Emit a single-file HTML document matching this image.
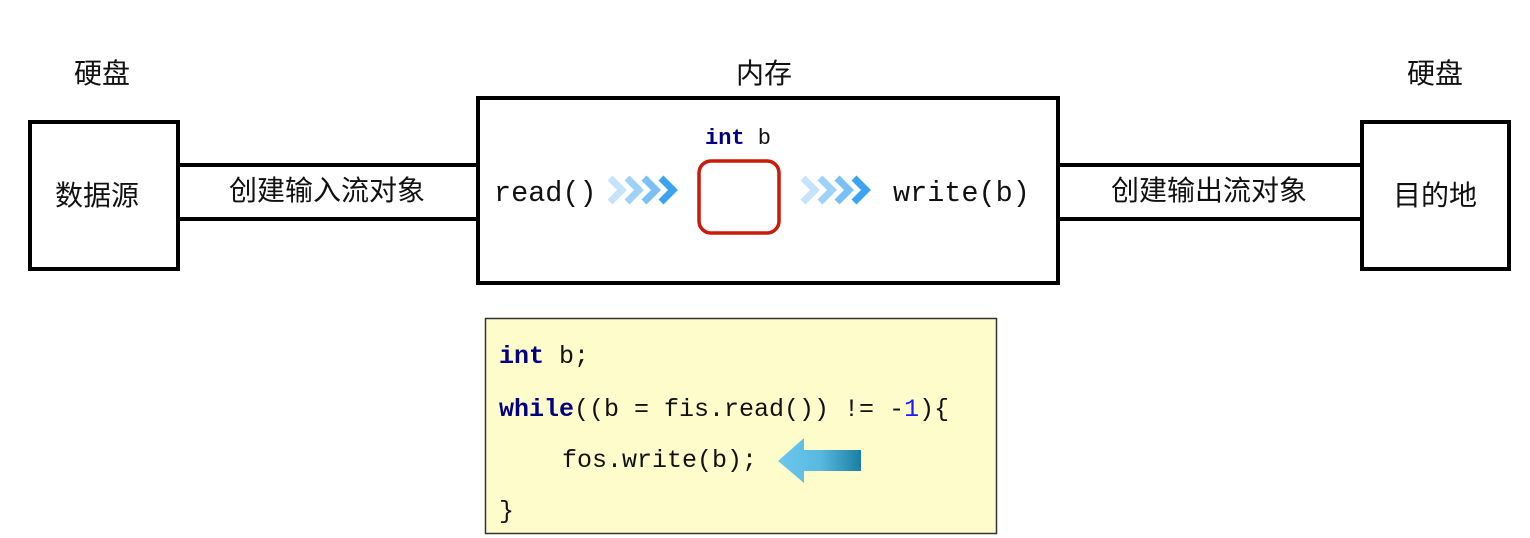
<!DOCTYPE html>
<html><head><meta charset="utf-8"><style>
html,body{margin:0;padding:0;background:#fff;width:1530px;height:538px;overflow:hidden}
svg{display:block}
.cjk{font-family:"Liberation Sans","Noto Sans CJK SC",sans-serif;font-size:28px;fill:#111}
.mono{font-family:"Liberation Mono","DejaVu Sans Mono",monospace;fill:#111}
</style></head><body>
<svg width="1530" height="538" viewBox="0 0 1530 538" xmlns="http://www.w3.org/2000/svg">
<defs>
<linearGradient id="ag" x1="0" x2="1" y1="0" y2="0">
<stop offset="0" stop-color="#6cc8ee"/><stop offset="0.5" stop-color="#5ab9e0"/><stop offset="1" stop-color="#1a7fa3"/>
</linearGradient>
</defs>
<text class="cjk" x="102" y="83" text-anchor="middle">硬盘</text>
<text class="cjk" x="764" y="83" text-anchor="middle">内存</text>
<text class="cjk" x="1435" y="83" text-anchor="middle">硬盘</text>
<g stroke="#000" stroke-width="4">
<line x1="178" y1="165" x2="478" y2="165"/>
<line x1="178" y1="219" x2="478" y2="219"/>
<line x1="1058" y1="165" x2="1362" y2="165"/>
<line x1="1058" y1="219" x2="1362" y2="219"/>
</g>
<g fill="none" stroke="#000" stroke-width="4">
<rect x="30" y="122" width="148" height="147"/>
<rect x="478" y="98" width="580" height="185"/>
<rect x="1362" y="122" width="147" height="147"/>
</g>
<text class="cjk" x="97" y="205" text-anchor="middle">数据源</text>
<text class="cjk" x="327" y="200" text-anchor="middle">创建输入流对象</text>
<text class="cjk" x="1209" y="200" text-anchor="middle">创建输出流对象</text>
<text class="cjk" x="1435" y="205" text-anchor="middle">目的地</text>
<text class="mono" x="705" y="144" font-size="22"><tspan fill="#000080" font-weight="bold">int</tspan> b</text>
<text class="mono" x="494" y="201" font-size="28.5">read()</text>
<text class="mono" x="893" y="201" font-size="28.5">write(b)</text>
<rect x="699" y="161" width="80" height="72" rx="12" fill="none" stroke="#cc1a0a" stroke-width="3.5"/>
<g fill="none" stroke-width="7" stroke-linecap="butt" stroke-linejoin="miter">
<polyline points="610,178 622,190 610,202" stroke="#c5e4fb"/>
<polyline points="627,178 639,190 627,202" stroke="#9fd2f8"/>
<polyline points="644,178 656,190 644,202" stroke="#79c0f6"/>
<polyline points="661,178 673,190 661,202" stroke="#3aa4f2"/>
<polyline points="803,178 815,190 803,202" stroke="#c5e4fb"/>
<polyline points="820,178 832,190 820,202" stroke="#9fd2f8"/>
<polyline points="837,178 849,190 837,202" stroke="#79c0f6"/>
<polyline points="854,178 866,190 854,202" stroke="#3aa4f2"/>
</g>
<rect x="485.5" y="318.5" width="511" height="215" fill="#fffccb" stroke="#333" stroke-width="1.5"/>
<g class="mono" font-size="25">
<text x="499" y="363"><tspan fill="#000080" font-weight="bold">int</tspan> b;</text>
<text x="499" y="416"><tspan fill="#000080" font-weight="bold">while</tspan>((b = fis.read()) != -<tspan fill="#1a1aff">1</tspan>){</text>
<text x="562" y="467">fos.write(b);</text>
<text x="499" y="518">}</text>
</g>
<path d="M778,461 L804,438 L804,450 L861,450 L861,471 L804,471 L804,483 Z" fill="url(#ag)"/>
</svg>
</body></html>
